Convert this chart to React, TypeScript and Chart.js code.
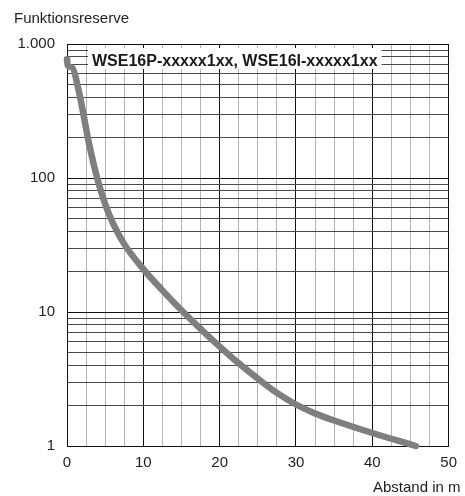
import React, { useEffect, useRef } from "react";
import { Chart, registerables } from "chart.js";

Chart.register(...registerables);

// Data
const distance = [0, 0.1, 0.7, 1.5, 3, 4, 5, 6, 7.5, 10, 12.5, 15, 17.5, 20, 22.5, 25, 27.5, 30, 32.5, 35, 40, 45.7];
const reserve = [770, 690, 665, 457, 168, 97.6, 63.8, 46.2, 32.1, 20.9, 14.5, 10.3, 7.49, 5.52, 4.14, 3.18, 2.49, 2.04, 1.75, 1.55, 1.25, 1.0];

const xTickValues = [0, 10, 20, 30, 40, 50];
const xTickLabels = ["0", "10", "20", "30", "40", "50"];
const yTickValues = [1, 10, 100, 1000];
const yTickLabels = ["1", "10", "100", "1.000"];

const yTitle = "Funktionsreserve";
const xTitle = "Abstand in m";
const seriesLabel = "WSE16P-xxxxx1xx, WSE16I-xxxxx1xx";

const FONT = '"Liberation Sans", Arial, sans-serif';
const TEXT = "#1e1e1e";

function buildYGrid(): number[] {
  const vals: number[] = [];
  for (let d = 1; d < 1000; d *= 10) {
    for (let m = 1; m <= 9; m++) vals.push(m * d);
  }
  vals.push(1000);
  return vals;
}

const annotPlugin = {
  id: "annot",
  afterDraw(chart: any) {
    const ctx = chart.ctx as CanvasRenderingContext2D;
    const area = chart.chartArea;
    ctx.save();
    ctx.fillStyle = TEXT;
    ctx.textBaseline = "alphabetic";
    ctx.textAlign = "left";
    ctx.font = `15px ${FONT}`;
    ctx.fillText(yTitle, 14, 23);
    ctx.fillText(xTitle, 373, 492);

    ctx.font = `bold 16px ${FONT}`;
    const w = ctx.measureText(seriesLabel).width;
    const bx = area.left + 21;
    const by = area.top + 4;
    ctx.fillStyle = "#ffffff";
    ctx.fillRect(bx, by, w + 8, 21);
    ctx.fillStyle = "#1a1a1a";
    ctx.fillText(seriesLabel, bx + 4, by + 17.5);
    ctx.restore();
  },
};

export default function App() {
  const ref = useRef<HTMLCanvasElement | null>(null);

  useEffect(() => {
    if (!ref.current) return;
    const points = distance.map((x, i) => ({ x, y: reserve[i] }));
    const yGrid = buildYGrid();
    const chart = new Chart(ref.current, {
      type: "line",
      data: {
        datasets: [
          {
            label: seriesLabel,
            data: points,
            borderColor: "#7f7f7f",
            borderWidth: 6.5,
            borderCapStyle: "round",
            borderJoinStyle: "round",
            pointRadius: 0,
            cubicInterpolationMode: "monotone",
            clip: false as any,
          },
        ],
      },
      options: {
        animation: false,
        responsive: false,
        layout: { padding: { left: 0, right: 8, top: 44, bottom: 0 } },
        plugins: {
          legend: { display: false },
          tooltip: { enabled: false },
        },
        scales: {
          x: {
            type: "linear",
            min: 0,
            max: 50,
            afterBuildTicks: (scale: any) => {
              const t = [];
              for (let v = 0; v <= 50; v += 2.5) t.push({ value: v });
              scale.ticks = t;
            },
            afterFit: (scale: any) => {
              scale.height = 50;
            },
            ticks: {
              autoSkip: false,
              maxRotation: 0,
              padding: 8,
              color: TEXT,
              font: { family: FONT, size: 15 },
              callback: (v: any) => {
                const i = xTickValues.indexOf(Number(v));
                return i >= 0 ? xTickLabels[i] : "";
              },
            },
            grid: {
              drawTicks: false,
              color: (c: any) => (c.tick && c.tick.value % 10 === 0 ? "#111111" : "#b4b4b4"),
              lineWidth: 1,
            },
            border: { color: "#111111", width: 1 },
          },
          y: {
            type: "logarithmic",
            min: 1,
            max: 1000,
            afterBuildTicks: (scale: any) => {
              scale.ticks = yGrid.map((v) => ({ value: v }));
            },
            afterFit: (scale: any) => {
              scale.width = 67;
            },
            ticks: {
              autoSkip: false,
              padding: 12,
              color: TEXT,
              font: { family: FONT, size: 15 },
              callback: (v: any) => {
                const i = yTickValues.indexOf(Number(v));
                return i >= 0 ? yTickLabels[i] : "";
              },
            },
            grid: {
              drawTicks: false,
              color: (c: any) =>
                c.tick && yTickValues.indexOf(c.tick.value) >= 0 ? "#111111" : "#4a4a4a",
              lineWidth: 1,
            },
            border: { color: "#111111", width: 1 },
          },
        },
      },
      plugins: [annotPlugin],
    } as any);
    return () => chart.destroy();
  }, []);

  return (
    <div
      style={{
        position: "fixed",
        left: 0,
        top: 0,
        width: 465,
        height: 496,
        background: "#ffffff",
        overflow: "hidden",
      }}
    >
      <canvas ref={ref} width={465} height={496} style={{ width: 465, height: 496, display: "block" }} />
    </div>
  );
}
